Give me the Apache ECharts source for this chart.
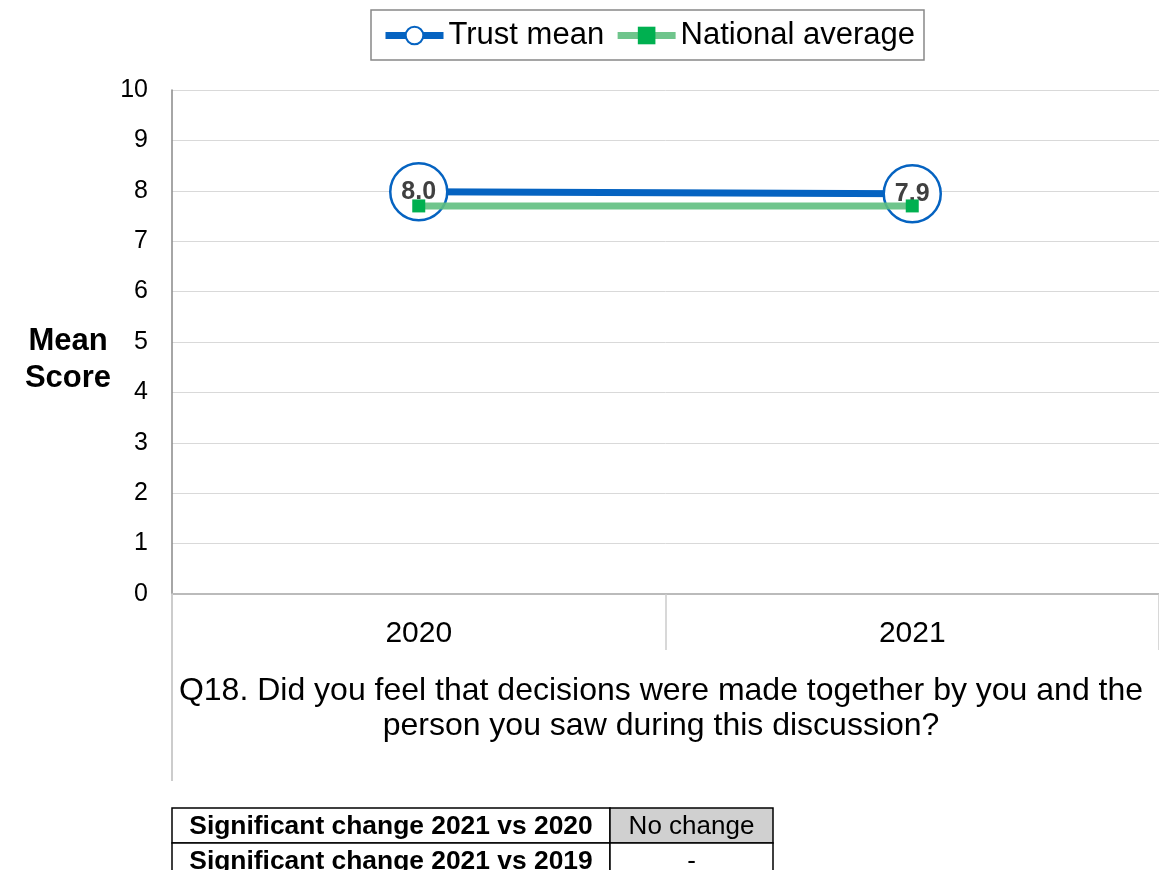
<!DOCTYPE html>
<html>
<head>
<meta charset="utf-8">
<script src="https://cdn.jsdelivr.net/npm/echarts@6/dist/echarts.min.js"></script>
<style>
html,body{margin:0;padding:0;background:#fff;}
#chart{width:1159px;height:870px;}
</style>
</head>
<body>
<div id="chart"></div>
<script>
const categories = ['2020', '2021'];
const trustMean = [7.98, 7.94];
const nationalAverage = [7.70, 7.70];
const yTicks = [0, 10, 1];
const seriesNames = ['Trust mean', 'National average'];
const questionText = 'Q18. Did you feel that decisions were made together by you and the\nperson you saw during this discussion?';
const tableLabels = ['Significant change 2021 vs 2020', 'Significant change 2021 vs 2019'];
const tableValues = ['No change', '-'];

const FONT = '"Liberation Sans", Arial, sans-serif';
const chart = echarts.init(document.getElementById('chart'), null, {renderer: 'canvas'});

const tableTop = 808, rowH = 35, c0 = 172, c1 = 610, c2 = 773;
const tableGraphics = [];
tableLabels.forEach((lab, i) => {
  const y = tableTop + i * rowH;
  tableGraphics.push({type: 'rect', shape: {x: c0, y: y, width: c1 - c0, height: rowH},
    style: {fill: '#fff', stroke: '#000', lineWidth: 1.5}});
  tableGraphics.push({type: 'rect', shape: {x: c1, y: y, width: c2 - c1, height: rowH},
    style: {fill: i === 0 ? '#d0d0d0' : '#fff', stroke: '#000', lineWidth: 1.5}});
  tableGraphics.push({type: 'text', x: (c0 + c1) / 2, y: y + rowH / 2 + 1,
    style: {text: lab, font: 'bold 26.4px ' + FONT, fill: '#000', textAlign: 'center', textVerticalAlign: 'middle'}});
  tableGraphics.push({type: 'text', x: (c1 + c2) / 2, y: y + rowH / 2 + 1,
    style: {text: tableValues[i], font: '26px ' + FONT, fill: '#000', textAlign: 'center', textVerticalAlign: 'middle'}});
});

const option = {
  animation: false,
  backgroundColor: '#fff',
  textStyle: {fontFamily: FONT},
  legend: {
    data: seriesNames,
    left: 371, top: 10,
    padding: [10, 9, 9, 11],
    itemGap: 10,
    itemWidth: 58, itemHeight: 22,
    borderColor: '#888', borderWidth: 1.5,
    lineStyle: {width: 7},
    textStyle: {fontSize: 31, color: '#000', fontFamily: FONT}
  },
  grid: {left: 172, right: -1, top: 90, bottom: 276, containLabel: false},
  xAxis: {
    type: 'category',
    data: categories,
    boundaryGap: true,
    axisLine: {lineStyle: {color: '#bbb', width: 2}},
    axisTick: {show: true, length: 56, alignWithLabel: false, lineStyle: {color: '#ccc', width: 1.5}},
    axisLabel: {fontSize: 30, color: '#000', margin: 25, fontFamily: FONT},
    splitLine: {show: false}
  },
  yAxis: {
    type: 'value',
    min: yTicks[0], max: yTicks[1], interval: yTicks[2],
    axisLine: {show: true, lineStyle: {color: '#888', width: 1.5}},
    axisTick: {show: false},
    axisLabel: {fontSize: 25, color: '#000', margin: 24, fontFamily: FONT},
    splitLine: {lineStyle: {color: '#d9d9d9', width: 1}}
  },
  series: [
    {
      name: seriesNames[0],
      type: 'line',
      data: trustMean,
      z: 2,
      symbol: 'circle',
      symbolSize: 57,
      lineStyle: {color: '#0563c1', width: 7},
      itemStyle: {color: '#fff', borderColor: '#0563c1', borderWidth: 2.5},
      label: {
        show: true, position: 'inside',
        formatter: p => p.value.toFixed(1),
        fontSize: 25, fontWeight: 'bold', color: '#404040', fontFamily: FONT
      },
      emphasis: {disabled: true}
    },
    {
      name: seriesNames[1],
      type: 'line',
      data: nationalAverage,
      z: 3,
      symbol: 'rect',
      symbolSize: 13,
      lineStyle: {color: '#5fbf80', width: 7, opacity: 0.9},
      itemStyle: {color: '#00b050', borderWidth: 0},
      label: {show: false},
      emphasis: {disabled: true}
    }
  ],
  graphic: [
    {type: 'line', shape: {x1: 172, y1: 594, x2: 172, y2: 781}, style: {stroke: '#ccc', lineWidth: 2}, z: 1},
    {type: 'text', x: 68, y: 360,
      style: {text: 'Mean\nScore', font: 'bold 31px ' + FONT, fill: '#000', textAlign: 'center', textVerticalAlign: 'middle', lineHeight: 37}},
    {type: 'text', x: 661, y: 709,
      style: {text: questionText, font: '32px ' + FONT, fill: '#000', textAlign: 'center', textVerticalAlign: 'middle', lineHeight: 35}}
  ].concat(tableGraphics)
};
chart.setOption(option);
</script>
</body>
</html>
